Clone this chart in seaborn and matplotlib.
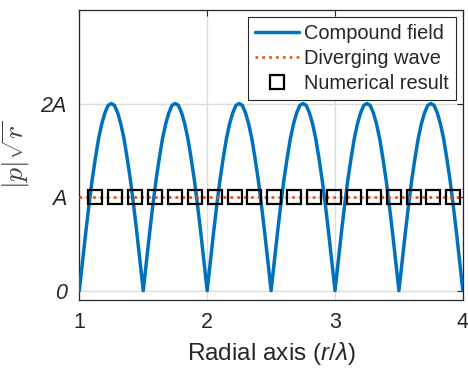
import numpy as np
import pandas as pd
import matplotlib
matplotlib.use("Agg")
import matplotlib.pyplot as plt
import seaborn as sns

# ---- data ----
compound_field = [
    0.00, 0.31, 0.62, 0.91, 1.18, 1.41, 1.62, 1.78, 1.90, 1.98, 2.00, 1.98, 1.90, 1.78, 1.62, 1.41, 1.18, 0.91, 0.62, 0.31,
    0.00, 0.31, 0.62, 0.91, 1.18, 1.41, 1.62, 1.78, 1.90, 1.98, 2.00, 1.98, 1.90, 1.78, 1.62, 1.41, 1.18, 0.91, 0.62, 0.31,
    0.00, 0.31, 0.62, 0.91, 1.18, 1.41, 1.62, 1.78, 1.90, 1.98, 2.00, 1.98, 1.90, 1.78, 1.62, 1.41, 1.18, 0.91, 0.62, 0.31,
    0.00, 0.31, 0.62, 0.91, 1.18, 1.41, 1.62, 1.78, 1.90, 1.98, 2.00, 1.98, 1.90, 1.78, 1.62, 1.41, 1.18, 0.91, 0.62, 0.31,
    0.00, 0.31, 0.62, 0.91, 1.18, 1.41, 1.62, 1.78, 1.90, 1.98, 2.00, 1.98, 1.90, 1.78, 1.62, 1.41, 1.18, 0.91, 0.62, 0.31,
    0.00, 0.31, 0.62, 0.91, 1.18, 1.41, 1.62, 1.78, 1.90, 1.98, 2.00, 1.98, 1.90, 1.78, 1.62, 1.41, 1.18, 0.91, 0.62, 0.31,
    0.00,
]
compound_r = np.linspace(1.0, 4.0, len(compound_field))

diverging_r = [1.0, 4.0]
diverging_wave = [1.0, 1.0]

numerical_r = [1.125, 1.281, 1.436, 1.592, 1.747, 1.903, 2.058, 2.214, 2.369, 2.525,
               2.681, 2.836, 2.992, 3.147, 3.303, 3.458, 3.614, 3.769, 3.925]
numerical_result = [1.0] * len(numerical_r)

x_ticks = [1, 2, 3, 4]
y_ticks = [0, 1, 2]
y_tick_labels = ["0", "A", "2A"]

# ---- style ----
sns.set_theme(style="white")
plt.rcParams["font.family"] = ["Liberation Sans", "DejaVu Sans"]
plt.rcParams["mathtext.fontset"] = "custom"
plt.rcParams["mathtext.it"] = "Liberation Sans:italic"
plt.rcParams["mathtext.rm"] = "Liberation Sans"

txt = "#262626"
fig = plt.figure(figsize=(4.68, 3.69), dpi=100)
ax = fig.add_axes([0.1695, 0.187, 0.8195, 0.786])

sns.lineplot(x=compound_r, y=compound_field, ax=ax, color="#0072BD", lw=2.5,
             label="Compound field", zorder=3)
sns.lineplot(x=diverging_r, y=diverging_wave, ax=ax, color="#D95319", lw=1.9,
             linestyle=(0, (1, 1.6)), label="Diverging wave", zorder=4)
sns.lineplot(x=numerical_r, y=numerical_result, ax=ax, linestyle="", marker="s",
             markersize=9.5, markerfacecolor="none", markeredgecolor="black",
             markeredgewidth=1.6, color="black", label="Numerical result", zorder=5)

ax.set_xlim(1, 4)
ax.set_ylim(-0.1, 3.0)
ax.set_xticks(x_ticks)
ax.set_xticklabels([str(t) for t in x_ticks])
ax.set_yticks(y_ticks)
ax.set_yticklabels(y_tick_labels, fontstyle="italic")
ax.grid(True, color="#dcdcdc", lw=1.0)
ax.set_axisbelow(True)

ax.tick_params(axis="both", direction="in", length=4, width=0.8, colors="#262626",
               labelsize=15.5, top=True, right=True, pad=9)
for lab in ax.get_xticklabels() + ax.get_yticklabels():
    lab.set_color(txt)
for s in ax.spines.values():
    s.set_color("#262626")
    s.set_linewidth(0.9)

ax.set_xlabel(r"Radial axis ($r/\lambda$)", fontsize=17.5, color=txt, labelpad=5)
ax.set_ylabel(r"$|p|\sqrt{r}$", fontsize=20, color="#404040", labelpad=6,
              math_fontfamily="cm")

leg = ax.legend(loc="upper right", fontsize=14.4, frameon=True, fancybox=False,
                edgecolor="#262626", framealpha=1, borderaxespad=0.35,
                handlelength=2.2, handletextpad=0.25, labelspacing=0.3,
                borderpad=0.35)
leg.get_frame().set_linewidth(0.8)

fig.savefig("out.png", dpi=100)
